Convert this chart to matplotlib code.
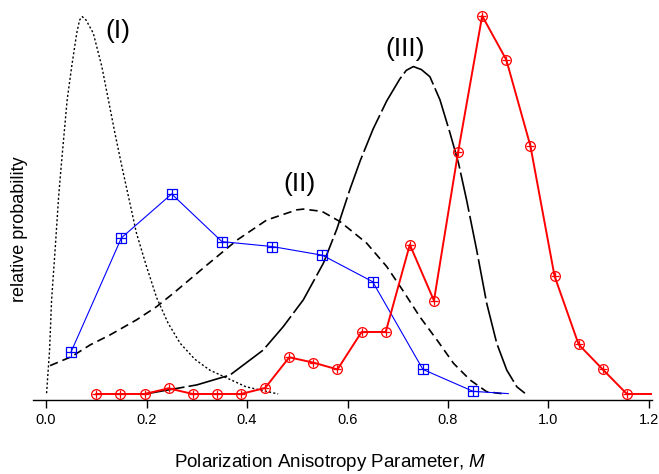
import matplotlib
matplotlib.use("Agg")
import matplotlib.pyplot as plt

plt.rcParams['font.family'] = ['Liberation Sans', 'DejaVu Sans']
plt.rcParams['mathtext.fontset'] = 'custom'
plt.rcParams['mathtext.it'] = 'Liberation Sans:italic'
plt.rcParams['mathtext.rm'] = 'Liberation Sans'

# measured distribution (red, circles)
red_x = [0.100, 0.148, 0.196, 0.244, 0.292, 0.340, 0.388, 0.436, 0.484, 0.532,
         0.580, 0.628, 0.676, 0.724, 0.772, 0.820, 0.868, 0.916, 0.964, 1.012,
         1.060, 1.108, 1.156]
red_y = [0.0, 0.0, 0.0, 0.015, 0.0, 0.0, 0.0, 0.016, 0.097, 0.083,
         0.065, 0.164, 0.164, 0.395, 0.247, 0.639, 1.0, 0.884, 0.656, 0.312,
         0.131, 0.065, 0.0]
red_tail_x, red_tail_y = 1.204, 0.0

# measured distribution (blue, squares)
blue_x = [0.05, 0.15, 0.25, 0.35, 0.45, 0.55, 0.65, 0.75, 0.85]
blue_y = [0.112, 0.413, 0.529, 0.403, 0.390, 0.367, 0.297, 0.065, 0.007]
blue_tail_x, blue_tail_y = 0.92, 0.001

# model curve (I), dotted
c1_x = [0.001, 0.007, 0.011, 0.018, 0.025, 0.030, 0.036, 0.042, 0.051, 0.061,
        0.0667, 0.072, 0.0796, 0.094, 0.111, 0.124, 0.137, 0.151, 0.164, 0.180,
        0.200, 0.220, 0.243, 0.267, 0.296, 0.326, 0.398, 0.462]
c1_y = [0.002, 0.116, 0.249, 0.381, 0.522, 0.601, 0.690, 0.778, 0.866, 0.954,
        0.989, 0.998, 0.989, 0.954, 0.866, 0.778, 0.690, 0.601, 0.522, 0.425,
        0.337, 0.255, 0.187, 0.134, 0.092, 0.063, 0.019, 0.0]

# model curve (II), dashed
c2_x = [0.008, 0.051, 0.088, 0.127, 0.180, 0.220, 0.253, 0.320, 0.380, 0.439,
        0.499, 0.512, 0.549, 0.585, 0.638, 0.678, 0.711, 0.744, 0.778, 0.811,
        0.844, 0.877, 0.907]
c2_y = [0.075, 0.099, 0.130, 0.156, 0.196, 0.231, 0.266, 0.341, 0.407, 0.460,
        0.487, 0.489, 0.483, 0.456, 0.399, 0.337, 0.272, 0.204, 0.143, 0.081,
        0.037, 0.006, 0.001]

# model curve (III), long dashes
c3_x = [0.197, 0.300, 0.366, 0.432, 0.472, 0.512, 0.552, 0.579, 0.605, 0.625,
        0.651, 0.678, 0.704, 0.717, 0.731, 0.747, 0.764, 0.784, 0.804, 0.821,
        0.837, 0.857, 0.877, 0.897, 0.917, 0.937, 0.953]
c3_y = [0.0, 0.024, 0.050, 0.116, 0.178, 0.249, 0.346, 0.437, 0.542, 0.616,
        0.701, 0.775, 0.833, 0.856, 0.866, 0.858, 0.839, 0.778, 0.690, 0.610,
        0.513, 0.381, 0.240, 0.134, 0.063, 0.019, 0.002]

xticks = [0.0, 0.2, 0.4, 0.6, 0.8, 1.0, 1.2]

fig = plt.figure(figsize=(6.59, 4.74), dpi=100)
ax = fig.add_axes([33 / 659, 74 / 474, 619 / 659, 400 / 474])

ax.plot(c1_x, c1_y, color='black', lw=1.0, dashes=(1.5, 1.6))
ax.plot(c2_x, c2_y, color='black', lw=1.2, dashes=(5, 3))
ax.plot(c3_x, c3_y, color='black', lw=1.2, dashes=(24, 2.5))

# blue series: line + square with plus
ax.plot(blue_x + [blue_tail_x], blue_y + [blue_tail_y], color='blue', lw=0.8)
ax.plot(blue_x, blue_y, ls='none', marker='s', ms=6.5, mfc='none',
        mec='blue', mew=0.9)
ax.plot(blue_x, blue_y, ls='none', marker='+', ms=6.5, mec='blue', mew=0.9)

# red series: line + circle with plus
ax.plot(red_x + [red_tail_x], red_y + [red_tail_y], color='red', lw=1.4)
ax.plot(red_x, red_y, ls='none', marker='o', ms=7, mfc='none',
        mec='red', mew=0.9)
ax.plot(red_x, red_y, ls='none', marker='+', ms=6, mec='red', mew=0.9)

ax.text(0.142, 0.961, '(I)', fontsize=19, ha='center', va='center')
ax.text(0.505, 0.556, '(II)', fontsize=19, ha='center', va='center')
ax.text(0.714, 0.913, '(III)', fontsize=19, ha='center', va='center')

ax.set_xlim(-0.026, 1.206)
ax.set_ylim(-0.0159, 1.042)
ax.set_xticks(xticks)
ax.set_xticklabels([f'{t:.1f}' for t in xticks])
ax.set_yticks([])
for s in ['left', 'top', 'right']:
    ax.spines[s].set_visible(False)
ax.spines['bottom'].set_linewidth(1.0)
ax.tick_params(axis='x', direction='out', length=6, width=1.0,
               labelsize=10.5, pad=3)
ax.set_xlabel('Polarization Anisotropy Parameter, $M$', fontsize=13.5)
ax.xaxis.set_label_coords(0.48, -0.13)
fig.text(20 / 659, 1 - 229 / 474, 'relative probability', rotation=90,
         fontsize=13, ha='center', va='center')

fig.savefig('out.png', dpi=100)
